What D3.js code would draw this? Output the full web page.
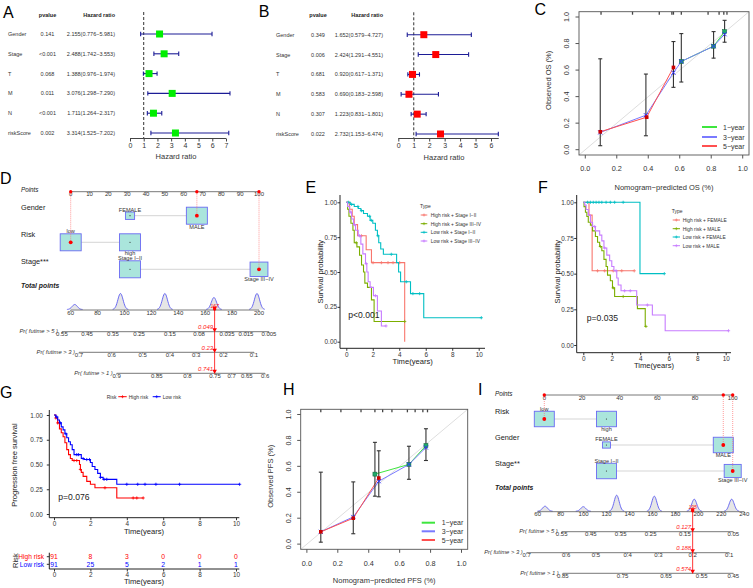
<!DOCTYPE html>
<html>
<head>
<meta charset="utf-8">
<script src="https://cdn.jsdelivr.net/npm/d3@7/dist/d3.min.js"></script>
<style>
  body { margin: 0; background: #fff; }
  svg { display: block; font-family: Arial, "Liberation Sans", Helvetica, sans-serif; }
</style>
</head>
<body>
<div id="chart"></div>
<script>
// ---- Forest plots: A (univariate), B (multivariate) ----
const forestVars = ["Gender", "Stage", "T", "M", "N", "riskScore"];
const uniP = ["0.141", "<0.001", "0.068", "0.011", "<0.001", "0.002"];
const uniHR = [2.155, 2.488, 1.388, 3.076, 1.711, 3.314];
const uniLow = [0.776, 1.742, 0.976, 1.298, 1.264, 1.525];
const uniHigh = [5.981, 3.553, 1.974, 7.290, 2.317, 7.202];
const multiP = ["0.349", "0.006", "0.681", "0.583", "0.307", "0.022"];
const multiHR = [1.652, 2.424, 0.920, 0.690, 1.223, 2.732];
const multiLow = [0.579, 1.291, 0.617, 0.183, 0.831, 1.153];
const multiHigh = [4.727, 4.551, 1.371, 2.598, 1.801, 6.474];
const forestTicksA = [0, 1, 2, 3, 4, 5, 6, 7];
const forestTicksB = [0, 1, 2, 3, 4, 5, 6];

// ---- Calibration curves: C (OS), H (PFS) ----
const calLabels = ["1\u2212year", "3\u2212year", "5\u2212year"];
const calTicks = [0, 0.2, 0.4, 0.6, 0.8, 1.0];
const osCal1 = [[0.61, 0.665], [0.815, 0.78], [0.885, 0.89]];
const osCal3 = [[0.095, 0.13], [0.385, 0.26], [0.56, 0.58], [0.61, 0.665], [0.815, 0.78], [0.885, 0.87]];
const osCal5 = [[0.095, 0.135], [0.39, 0.245], [0.56, 0.62]];
const osErr = [[0.095, 0.03, 0.685], [0.385, 0.105, 0.57], [0.56, 0.47, 0.815], [0.61, 0.51, 0.875], [0.815, 0.69, 0.89], [0.885, 0.81, 0.975]];
const osRug = [0.1, 0.3, 0.47, 0.55, 0.56, 0.61, 0.78, 0.85, 0.88, 0.9];
const pfsCal1 = [[0.44, 0.54], [0.66, 0.615], [0.77, 0.76]];
const pfsCal3 = [[0.09, 0.095], [0.30, 0.21], [0.465, 0.485], [0.66, 0.615], [0.77, 0.745]];
const pfsCal5 = [[0.09, 0.095], [0.30, 0.20], [0.465, 0.51]];
const pfsErr = [[0.09, 0.015, 0.555], [0.30, 0.08, 0.48], [0.44, 0.37, 0.785], [0.465, 0.365, 0.72], [0.66, 0.50, 0.755], [0.77, 0.645, 0.89]];
const pfsRug = [0.09, 0.22, 0.35, 0.44, 0.49, 0.55, 0.65, 0.70, 0.75, 0.78];

// ---- Nomograms: D (OS), I (PFS) ----
const dRows = ["Gender", "Risk", "Stage***"];
const dLevels = [["FEMALE", "MALE"], ["low", "high"], ["Stage I\u2212II", "Stage III\u2212IV"]];
const dLevelPts = [[31.5, 67], [0, 31.5], [31.5, 100]];
const dLevelFreq = [[0.16, 0.84], [0.5, 0.5], [0.58, 0.42]];
const dSelected = [1, 0, 1];
const dPointTicks = [0, 10, 20, 30, 40, 50, 60, 70, 80, 90, 100];
const dTotalTicks = [60, 80, 100, 120, 140, 160, 180, 200];
const dPeaks = [63, 97, 130, 166.5, 198.5];
const dPeakH = [5, 16, 16, 12, 16];
const dPrNames = ["Pr( futime > 5 )", "Pr( futime > 3 )", "Pr( futime > 1 )"];
const dPrLabels = [["0.55", "0.45", "0.35", "0.25", "0.15", "0.08", "0.035", "0.015", "0.005"],
                   ["0.7", "0.6", "0.5", "0.4", "0.3", "0.2", "0.1"],
                   ["0.9", "0.85", "0.8", "0.75", "0.7", "0.65", "0.6"]];
const dPrAt = [[53.5, 72.1, 91.4, 110.8, 133.8, 155.4, 176.2, 190.3, 207.4],
               [66.2, 90.5, 113.5, 133.8, 153.2, 173.5, 196.3],
               [94.2, 124, 146.7, 167.3, 179.7, 190.9, 204.5]];
const dPrValues = ["0.049", "0.23", "0.741"];

const iRows = ["Risk", "Gender", "Stage**"];
const iLevels = [["low", "high"], ["FEMALE", "MALE"], ["Stage I\u2212II", "Stage III\u2212IV"]];
const iLevelPts = [[0, 33], [33, 95], [33, 100]];
const iLevelFreq = [[0.5, 0.5], [0.14, 0.86], [0.58, 0.42]];
const iSelected = [0, 1, 1];
const iPointTicks = [0, 20, 40, 60, 80, 100];
const iTotalTicks = [60, 80, 100, 120, 140, 160, 180, 200, 220, 240];
const iPeaks = [66.4, 99.7, 128.8, 161.6, 196.4, 229];
const iPeakH = [5, 4.5, 16, 15, 12, 12];
const iPrLabels = [["0.55", "0.45", "0.35", "0.25", "0.15", "0.05"],
                   ["0.7", "0.6", "0.5", "0.4", "0.3", "0.2", "0.1"],
                   ["0.85", "0.75", "0.65", "0.55", "0.45"]];
const iPrAt = [[80.9, 106.2, 132.3, 158.4, 188.3, 230.4],
               [50.4, 84.7, 110.8, 138.4, 165.1, 195, 226.9],
               [81.8, 134, 171.8, 202.9, 230.4]];
const iPrValues = ["0.127", "0.188", "0.574"];

// ---- Kaplan-Meier: E, F, G ----
const kmTimeTicks = [0, 2, 4, 6, 8, 10];
const kmSurvTicks = [0, 0.25, 0.5, 0.75, 1];
const ggColors = ["#F8766D", "#7CAE00", "#00BFC4", "#C77CFF"];

const eNames = ["High risk + Stage I\u2212II", "High risk + Stage III\u2212IV", "Low risk + Stage I\u2212II", "Low risk + Stage III\u2212IV"];
const eHighEarly = [[0, 1], [0.25, 0.95], [0.45, 0.9], [0.6, 0.84], [0.85, 0.76], [1.5, 0.66], [1.9, 0.567], [4.41, 0]];
const eHighLate = [[0, 1], [0.1, 0.95], [0.2, 0.9], [0.35, 0.85], [0.5, 0.8], [0.6, 0.71], [0.8, 0.68], [1.0, 0.62], [1.15, 0.55], [1.3, 0.5], [1.4, 0.42], [1.6, 0.39], [1.9, 0.3], [2.1, 0.145]];
const eLowEarly = [[0, 1], [0.3, 0.985], [0.6, 0.97], [0.9, 0.955], [1.1, 0.94], [1.3, 0.92], [1.6, 0.9], [1.8, 0.87], [2.0, 0.85], [2.2, 0.8], [2.35, 0.76], [2.45, 0.71], [2.6, 0.665], [2.8, 0.627], [3.8, 0.567], [3.95, 0.5], [4.1, 0.43], [4.85, 0.345], [5.85, 0.172]];
const eLowLate = [[0, 1], [0.1, 0.97], [0.25, 0.93], [0.4, 0.88], [0.55, 0.84], [0.7, 0.8], [0.9, 0.76], [1.1, 0.7], [1.25, 0.63], [1.45, 0.56], [1.55, 0.5], [1.65, 0.43], [1.8, 0.39], [2.05, 0.33], [2.35, 0.22], [2.65, 0.113]];
const eEnd = [4.41, 4.41, 10.2, 3.0];
const eCensor = [[1.14, 2.02, 2.65, 3.15, 3.53, 4.03], [0.75, 4.41], [0.15, 0.4, 0.88, 1.14, 1.76, 1.89, 2.39, 3.4, 4.53, 5.03, 5.54, 10.2], [0.3, 0.6, 1.0, 1.5, 2.2, 3.0]];

const fNames = ["High risk + FEMALE", "High risk + MALE", "Low risk + FEMALE", "Low risk + MALE"];
const fHighF = [[0, 1], [0.4, 0.91], [0.62, 0.52]];
const fHighM = [[0, 1], [0.05, 0.97], [0.15, 0.93], [0.25, 0.9], [0.35, 0.86], [0.5, 0.84], [0.65, 0.8], [0.85, 0.76], [1.0, 0.72], [1.15, 0.69], [1.3, 0.66], [1.45, 0.6], [1.6, 0.55], [1.7, 0.49], [1.9, 0.45], [2.05, 0.4], [2.2, 0.34], [3.8, 0.255], [4.35, 0.13]];
const fLowF = [[0, 1], [3.98, 0.5]];
const fLowM = [[0, 1], [0.1, 0.98], [0.2, 0.95], [0.35, 0.91], [0.5, 0.86], [0.65, 0.83], [0.85, 0.8], [1.15, 0.77], [1.3, 0.73], [1.45, 0.68], [1.65, 0.63], [1.85, 0.59], [2.0, 0.55], [2.15, 0.52], [2.35, 0.47], [2.45, 0.42], [2.65, 0.38], [3.75, 0.28], [4.85, 0.21], [5.75, 0.1]];
const fEnd = [3.58, 4.4, 5.69, 10.2];
const fCensor = [[1.0, 1.5, 2.1, 2.7, 3.58], [1.2, 2.1, 2.8, 4.4], [0.3, 0.5, 0.7, 0.9, 1.1, 1.3, 1.6, 1.9, 2.2, 2.8, 5.69], [0.8, 1.5, 2.3, 2.9, 3.3, 4.5, 10.2]];

const gNames = ["High risk", "Low risk"];
const gColors = ["#ff0000", "#0000ff"];
const gHigh = [[0, 1], [0.1, 0.97], [0.2, 0.92], [0.3, 0.86], [0.4, 0.82], [0.5, 0.78], [0.6, 0.72], [0.7, 0.65], [0.8, 0.6], [0.9, 0.56], [1.0, 0.54], [1.4, 0.5], [1.45, 0.45], [1.5, 0.42], [1.6, 0.38], [1.8, 0.33], [2.0, 0.3], [2.25, 0.265], [3.45, 0.162]];
const gLow = [[0, 1], [0.1, 0.98], [0.2, 0.95], [0.3, 0.92], [0.4, 0.88], [0.5, 0.85], [0.6, 0.81], [0.7, 0.77], [0.8, 0.73], [0.9, 0.7], [1.0, 0.65], [1.1, 0.6], [1.5, 0.56], [1.65, 0.55], [2.0, 0.52], [2.1, 0.48], [2.25, 0.45], [2.4, 0.41], [2.55, 0.37], [2.7, 0.35], [3.45, 0.30]];
const gEnd = [4.9, 10.2];
const gCensor = [[0.1, 0.2, 1.1, 1.25, 1.45, 2.8, 4.35, 4.55, 4.9], [0.15, 0.35, 0.65, 1.25, 1.35, 1.6, 1.8, 1.95, 2.55, 2.75, 2.9, 4.0, 4.6, 5.0, 5.6, 6.9, 10.2]];
const gAtRiskHigh = [91, 8, 3, 0, 0, 0];
const gAtRiskLow = [91, 25, 5, 2, 1, 1];

const panelLetters = ["A", "B", "C", "D", "E", "F", "G", "H", "I"];

// ---------------------------------------------------------------
const svg = d3.select("#chart").append("svg").attr("width", 753).attr("height", 588);
svg.append("rect").attr("width", 753).attr("height", 588).attr("fill", "#fff");
const f3 = d3.format(".3f");

// ---------- Forest plot ----------
function forest(hr, lo, hi, pv, ticks, color, c) {
    const g = svg.append("g");
    const x = d3.scaleLinear().domain([0, ticks[ticks.length - 1]]).range([c.x0, c.x1]);
    const y = d3.scalePoint().domain(forestVars).range([c.yTop, c.yBot]);

    g.append("text").attr("x", c.pX).attr("y", c.headY).attr("text-anchor", "middle")
        .attr("font-size", 5.5).attr("font-weight", "bold").attr("fill", "#222").text("pvalue");
    g.append("text").attr("x", c.hrX).attr("y", c.headY).attr("text-anchor", "end")
        .attr("font-size", 5.5).attr("font-weight", "bold").attr("fill", "#222").text("Hazard ratio");

    const rows = g.selectAll(".row").data(forestVars).enter().append("g")
        .attr("transform", d => `translate(0,${y(d) + 2})`)
        .attr("font-size", 5.5).attr("fill", "#333");
    rows.append("text").attr("x", c.labX).text(d => d);
    rows.append("text").attr("x", c.pX).attr("text-anchor", "middle").text((d, i) => pv[i]);
    rows.append("text").attr("x", c.hrX).attr("text-anchor", "end")
        .text((d, i) => `${f3(hr[i])}(${f3(lo[i])}\u2212${f3(hi[i])})`);

    // Referenzlinie HR = 1
    g.append("line").attr("x1", x(1)).attr("x2", x(1)).attr("y1", c.dashTop).attr("y2", c.axisY)
        .attr("stroke", "#333").attr("stroke-width", 1).attr("stroke-dasharray", "3,2");

    const ci = g.selectAll(".ci").data(forestVars).enter().append("g")
        .attr("stroke", "#1c1c96").attr("stroke-width", 1.1);
    ci.append("line").attr("x1", (d, i) => x(lo[i])).attr("x2", (d, i) => x(hi[i]))
        .attr("y1", d => y(d)).attr("y2", d => y(d));
    ci.append("line").attr("x1", (d, i) => x(lo[i])).attr("x2", (d, i) => x(lo[i]))
        .attr("y1", d => y(d) - 2.2).attr("y2", d => y(d) + 2.2);
    ci.append("line").attr("x1", (d, i) => x(hi[i])).attr("x2", (d, i) => x(hi[i]))
        .attr("y1", d => y(d) - 2.2).attr("y2", d => y(d) + 2.2);

    g.selectAll(".hr").data(forestVars).enter().append("rect")
        .attr("x", (d, i) => x(hr[i]) - 3.5).attr("y", d => y(d) - 3.5)
        .attr("width", 7).attr("height", 7).attr("fill", color);

    const ax = g.append("g").attr("transform", `translate(0,${c.axisY})`)
        .call(d3.axisBottom(x).tickValues(ticks).tickFormat(d3.format("d")).tickSize(3).tickPadding(1.6));
    ax.attr("font-family", null).attr("font-size", 7);
    ax.select(".domain").remove();
    ax.selectAll("line").attr("stroke", "#444");
    ax.selectAll("text").attr("fill", "#333");
    g.append("line").attr("x1", x(0)).attr("x2", x(c.axisEnd)).attr("y1", c.axisY).attr("y2", c.axisY)
        .attr("stroke", "#444");
    g.append("text").attr("x", c.xlabX).attr("y", c.xlabY).attr("text-anchor", "middle")
        .attr("font-size", 7.5).attr("fill", "#333").text("Hazard ratio");
}

forest(uniHR, uniLow, uniHigh, uniP, forestTicksA, "#00ee00",
    {labX: 8, pX: 47.5, hrX: 115, headY: 16.5, x0: 130, x1: 226, yTop: 34, yBot: 133,
     dashTop: 12, axisY: 138.5, axisEnd: 7, xlabX: 176, xlabY: 158.5});
forest(multiHR, multiLow, multiHigh, multiP, forestTicksB, "#ff0000",
    {labX: 276, pX: 318, hrX: 383, headY: 17, x0: 398.3, x1: 491, yTop: 34.7, yBot: 134,
     dashTop: 12.3, axisY: 138.5, axisEnd: 6.5, xlabX: 444, xlabY: 159.5});

// ---------- Calibration plot ----------
const calColors = ["#3ee63e", "#7a7aff", "#ff5050"];
function calib(c) {
    const g = svg.append("g");
    const x = d3.scaleLinear().domain([-0.04, 1.04]).range([c.left, c.right]);
    const y = d3.scaleLinear().domain([-0.04, 1.04]).range([c.bottom, c.top]);

    g.append("line").attr("x1", x(-0.04)).attr("y1", y(-0.04)).attr("x2", x(1.04)).attr("y2", y(1.04))
        .attr("stroke", "#dedede").attr("stroke-width", 1);

    g.selectAll(".rug").data(c.rug).enter().append("line")
        .attr("x1", d => x(d)).attr("x2", d => x(d)).attr("y1", c.top).attr("y2", c.top + 3)
        .attr("stroke", "#444").attr("stroke-width", 1.3);

    const lineGen = d3.line().x(d => x(d[0])).y(d => y(d[1]));
    [c.cal1, c.cal3, c.cal5].forEach((pts, i) => {
        g.append("path").attr("d", lineGen(pts)).attr("fill", "none")
            .attr("stroke", calColors[i]).attr("stroke-width", 1);
    });

    const eb = g.selectAll(".eb").data(c.err).enter().append("g")
        .attr("stroke", "#333").attr("stroke-width", 1.1);
    eb.append("line").attr("x1", d => x(d[0])).attr("x2", d => x(d[0])).attr("y1", d => y(d[1])).attr("y2", d => y(d[2]));
    eb.append("line").attr("x1", d => x(d[0]) - 2).attr("x2", d => x(d[0]) + 2).attr("y1", d => y(d[1])).attr("y2", d => y(d[1]));
    eb.append("line").attr("x1", d => x(d[0]) - 2).attr("x2", d => x(d[0]) + 2).attr("y1", d => y(d[2])).attr("y2", d => y(d[2]));

    g.selectAll(".m1").data(c.cal1).enter().append("rect")
        .attr("x", d => x(d[0]) - 2).attr("y", d => y(d[1]) - 2).attr("width", 4).attr("height", 4)
        .attr("fill", "#1faa6a").attr("stroke", "#0a5f3a").attr("stroke-width", 0.5);
    g.selectAll(".m3").data(c.cal3).enter().append("path")
        .attr("d", d => `M${x(d[0]) - 2},${y(d[1]) - 2}l4,4M${x(d[0]) - 2},${y(d[1]) + 2}l4,-4`)
        .attr("stroke", "#3030ff").attr("stroke-width", 1);
    g.selectAll(".m5").data(c.cal5).enter().append("rect")
        .attr("x", d => x(d[0]) - 1.8).attr("y", d => y(d[1]) - 1.8).attr("width", 3.6).attr("height", 3.6)
        .attr("fill", "#cc0000");

    g.append("rect").attr("x", c.left).attr("y", c.top).attr("width", c.right - c.left).attr("height", c.bottom - c.top)
        .attr("fill", "none").attr("stroke", "#555").attr("stroke-width", 0.9);

    // Achsen
    g.selectAll(".xt").data(calTicks).enter().append("line")
        .attr("x1", d => x(d)).attr("x2", d => x(d)).attr("y1", c.bottom).attr("y2", c.bottom + 3.5).attr("stroke", "#555");
    g.selectAll(".xl").data(calTicks).enter().append("text")
        .attr("x", d => x(d)).attr("y", c.bottom + 16.3).attr("text-anchor", "middle")
        .attr("font-size", 7.3).attr("fill", "#333").text(d3.format(".1f"));
    g.selectAll(".yt").data(calTicks).enter().append("line")
        .attr("x1", c.left - 3.5).attr("x2", c.left).attr("y1", d => y(d)).attr("y2", d => y(d)).attr("stroke", "#555");
    g.selectAll(".yl").data(calTicks).enter().append("text")
        .attr("transform", d => `translate(${c.left - 10},${y(d)}) rotate(-90)`).attr("text-anchor", "middle")
        .attr("font-size", 7.3).attr("fill", "#333").text(d3.format(".1f"));

    g.append("text").attr("x", (c.left + c.right) / 2).attr("y", c.xlabY).attr("text-anchor", "middle")
        .attr("font-size", 7.5).attr("fill", "#333").text(c.xlab);
    g.append("text").attr("transform", `translate(${c.ylabX},${(c.top + c.bottom) / 2 - 3}) rotate(-90)`)
        .attr("text-anchor", "middle").attr("font-size", 7.5).attr("fill", "#333").text(c.ylab);

    calLabels.forEach((lab, i) => {
        const ly = c.legY[i];
        g.append("line").attr("x1", c.legX0).attr("x2", c.legX1).attr("y1", ly).attr("y2", ly)
            .attr("stroke", calColors[i]).attr("stroke-width", 2);
        g.append("text").attr("x", c.legTx).attr("y", ly + 2.5).attr("font-size", 7).attr("fill", "#333").text(lab);
    });
}

calib({left: 579, right: 749, top: 11.7, bottom: 155, cal1: osCal1, cal3: osCal3, cal5: osCal5, err: osErr, rug: osRug,
       xlab: "Nomogram\u2212predicted OS (%)", ylab: "Observed OS (%)", xlabY: 190.3, ylabX: 550.7,
       legX0: 702, legX1: 717, legTx: 723, legY: [127, 137, 146]});
calib({left: 300.7, right: 467.7, top: 409.3, bottom: 549.3, cal1: pfsCal1, cal3: pfsCal3, cal5: pfsCal5, err: pfsErr, rug: pfsRug,
       xlab: "Nomogram\u2212predicted PFS (%)", ylab: "Observed PFS (%)", xlabY: 582.6, ylabX: 273.4,
       legX0: 421.7, legX1: 435, legTx: 441.7, legY: [522.7, 531.3, 540]});

// ---------- Nomogram ----------
function nomogram(c) {
    const g = svg.append("g").attr("fill", "#222");
    const px = d3.scaleLinear().domain([0, 100]).range([c.p0, c.p100]);
    const tx = d3.scaleLinear().domain([60, c.tMax]).range([c.t0, c.t1]);

    const axis = (vals, scale, labels, yy) => {
        g.append("line").attr("x1", scale(vals[0])).attr("x2", scale(vals[vals.length - 1]))
            .attr("y1", yy).attr("y2", yy).attr("stroke", "#555").attr("stroke-width", 0.8);
        g.selectAll(null).data(vals).enter().append("line")
            .attr("x1", d => scale(d)).attr("x2", d => scale(d)).attr("y1", yy).attr("y2", yy + 1.5)
            .attr("stroke", "#555").attr("stroke-width", 0.6);
        g.selectAll(null).data(vals).enter().append("text")
            .attr("x", d => scale(d)).attr("y", yy + 4.6).attr("text-anchor", "middle")
            .attr("font-size", 6).attr("fill", "#333").text((d, i) => labels[i]);
    };

    g.append("text").attr("x", c.labX).attr("y", c.pointsLabY).attr("font-size", 6.3)
        .attr("font-style", "italic").text("Points");
    axis(c.pointTicks, px, c.pointTicks, c.pointsY);

    let total = 0;
    c.rows.forEach((name, r) => {
        const yy = c.rowY[r], pts = c.levelPts[r], fr = c.levelFreq[r], maxF = d3.max(fr);
        g.append("text").attr("x", c.labX).attr("y", c.rowY[r] - c.rowLabDy[r]).attr("font-size", 7.3).text(name);
        g.append("line").attr("x1", px(pts[0])).attr("x2", px(pts[1])).attr("y1", yy).attr("y2", yy)
            .attr("stroke", "#d0d0d0").attr("stroke-width", 0.9);
        c.levels[r].forEach((lv, k) => {
            const s = Math.sqrt(fr[k] / maxF), w = c.boxW * s, h = c.boxH * s;
            g.append("rect").attr("x", px(pts[k]) - w / 2).attr("y", yy - h / 2).attr("width", w).attr("height", h)
                .attr("fill", "#aae5dc").attr("stroke", "#6a6af2").attr("stroke-width", 0.9);
            g.append("circle").attr("cx", px(pts[k])).attr("cy", yy).attr("r", 0.6).attr("fill", "#333");
            g.append("text").attr("x", px(pts[k])).attr("y", k === 0 ? yy - h / 2 - 0.4 : yy + h / 2 + 4.4)
                .attr("text-anchor", "middle").attr("font-size", 5.6).attr("fill", "#333").text(lv);
        });
        const p = pts[c.selected[r]];
        total += p;
        g.append("line").attr("x1", px(p)).attr("x2", px(p)).attr("y1", c.pointsY).attr("y2", yy)
            .attr("stroke", "#ff7070").attr("stroke-width", 0.7).attr("stroke-dasharray", "1,1");
        g.append("circle").attr("cx", px(p)).attr("cy", yy).attr("r", 1.9).attr("fill", "#ff0000");
        g.append("circle").attr("cx", px(p)).attr("cy", c.pointsY).attr("r", 1.7).attr("fill", "#ff0000");
    });

    // Total points + Dichte
    g.append("text").attr("x", c.labX).attr("y", c.totalLabY).attr("font-size", 6.8)
        .attr("font-style", "italic").attr("font-weight", "bold").text("Total points");
    const area = d3.area().x(d => d[0]).y0(c.totalY - 0.5).y1(d => d[1]);
    const line = d3.line().x(d => d[0]).y(d => d[1]);
    c.peaks.forEach((pk, i) => {
        const cx = tx(pk);
        const pts = d3.range(-3, 3.01, 0.2).map(u => [cx + u * c.sigma, c.totalY - 0.5 - c.peakH[i] * Math.exp(-0.5 * u * u)]);
        g.append("path").attr("d", area(pts)).attr("fill", "#e6e6e6");
        g.append("path").attr("d", line(pts)).attr("fill", "none").attr("stroke", "#5b5bf0").attr("stroke-width", 0.9);
    });
    axis(c.totalTicks, tx, c.totalTicks, c.totalY);

    // Wahrscheinlichkeitsachsen
    const tpx = tx(total);
    c.prAt.forEach((at, i) => {
        const yy = c.prY[i];
        g.append("text").attr("x", tx(at[0]) - 4).attr("y", yy + 1.5).attr("text-anchor", "end")
            .attr("font-size", 5.8).attr("font-style", "italic").attr("fill", "#333").text(dPrNames[i]);
        axis(at, tx, c.prLabels[i], yy);
    });

    g.append("line").attr("x1", tpx).attr("x2", tpx).attr("y1", c.totalY).attr("y2", c.prY[2])
        .attr("stroke", "#ff2020").attr("stroke-width", 0.9);
    g.append("circle").attr("cx", tpx).attr("cy", c.totalY - 1).attr("r", 1.7).attr("fill", "#ff0000");
    g.append("text").attr("x", tpx).attr("y", c.totalY - 2.5).attr("text-anchor", "middle")
        .attr("font-size", 5).attr("font-style", "italic").attr("fill", "#ff2020").text(total);
    [c.totalY].concat(c.prY).forEach(yy => {
        g.append("path").attr("d", `M${tpx},${yy + 0.5}l-2.3,-4h4.6z`).attr("fill", "#ff0000");
    });
    c.prValues.forEach((v, i) => {
        g.append("text").attr("x", tpx - 1.5).attr("y", c.prY[i] - 2.6).attr("text-anchor", "end")
            .attr("font-size", 6).attr("font-style", "italic").attr("fill", "#ff2020").text(v);
    });
}

nomogram({labX: 21, pointsY: 191.7, pointsLabY: 192, p0: 70.7, p100: 259, t0: 70.7, t1: 259, tMax: 200,
          rows: dRows, levels: dLevels, levelPts: dLevelPts, levelFreq: dLevelFreq, selected: dSelected,
          pointTicks: dPointTicks, totalTicks: dTotalTicks, peaks: dPeaks, peakH: dPeakH, sigma: 2.6,
          prAt: dPrAt, prLabels: dPrLabels, prValues: dPrValues,
          rowY: [215.7, 242.3, 269.3], rowLabDy: [5.5, 5.5, 5.8], totalLabY: 287.8, totalY: 310,
          prY: [331.7, 352.3, 373.3], boxW: 21, boxH: 17});
nomogram({labX: 495, pointsY: 395, pointsLabY: 396, p0: 544.3, p100: 732.7, t0: 537.7, t1: 744.3, tMax: 240,
          rows: iRows, levels: iLevels, levelPts: iLevelPts, levelFreq: iLevelFreq, selected: iSelected,
          pointTicks: iPointTicks, totalTicks: iTotalTicks, peaks: iPeaks, peakH: iPeakH, sigma: 2.5,
          prAt: iPrAt, prLabels: iPrLabels, prValues: iPrValues,
          rowY: [419, 445, 471], rowLabDy: [4.8, 4.8, 5.2], totalLabY: 490.2, totalY: 511.7,
          prY: [531.7, 552.7, 573.3], boxW: 20, boxH: 15.5});

// ---------- Kaplan-Meier ----------
function km(c) {
    const g = svg.append("g");
    const x = d3.scaleLinear().domain([0, 10]).range([c.x0, c.x10]);
    const y = d3.scaleLinear().domain([0, 1]).range([c.y0, c.y1]);
    const line = d3.line().curve(d3.curveStepAfter).x(d => x(d[0])).y(d => y(d[1]));
    const plus = (px, py, s) => `M${px - s},${py}h${2 * s}M${px},${py - s}v${2 * s}`;

    c.curves.forEach((steps, i) => {
        const pts = steps.concat([[c.ends[i], steps[steps.length - 1][1]]]);
        g.append("path").attr("d", line(pts)).attr("fill", "none")
            .attr("stroke", c.colors[i]).attr("stroke-width", 1.1);
        const survAt = t => { let s = 1; steps.forEach(d => { if (d[0] <= t) s = d[1]; }); return s; };
        g.selectAll(null).data(c.censors[i]).enter().append("path")
            .attr("d", t => plus(x(t), y(survAt(t)), 1.6))
            .attr("stroke", c.colors[i]).attr("stroke-width", 0.8);
    });

    const ax = g.append("g").attr("transform", `translate(0,${c.axY})`)
        .call(d3.axisBottom(x).tickValues(kmTimeTicks).tickSize(2.5).tickPadding(1.2));
    const ay = g.append("g").attr("transform", `translate(${c.axX},0)`)
        .call(d3.axisLeft(y).tickValues(kmSurvTicks).tickFormat(d3.format(".2f")).tickSize(2.5).tickPadding(c.pad));
    [ax, ay].forEach(a => {
        a.attr("font-family", null).attr("font-size", 6.4);
        a.select(".domain").remove();
        a.selectAll("line").attr("stroke", "#333");
        a.selectAll("text").attr("fill", "#333");
    });
    g.append("line").attr("x1", c.axX).attr("x2", c.axX).attr("y1", c.axTop).attr("y2", c.axY).attr("stroke", "#222");
    g.append("line").attr("x1", c.axX).attr("x2", c.axRight).attr("y1", c.axY).attr("y2", c.axY).attr("stroke", "#222");

    g.append("text").attr("x", c.xlabX).attr("y", c.xlabY).attr("text-anchor", "middle")
        .attr("font-size", 7.6).attr("fill", "#222").text("Time(years)");
    g.append("text").attr("transform", `translate(${c.ylabX},${c.ylabY}) rotate(-90)`).attr("text-anchor", "middle")
        .attr("font-size", 7.6).attr("fill", "#222").text(c.ylab);
    g.append("text").attr("x", c.pX).attr("y", c.pY).attr("font-size", 8.6).attr("fill", "#222").text(c.pText);

    if (c.legend) {
        const L = c.legend;
        g.append("text").attr("x", L.x).attr("y", L.titleY + 1.8).attr("font-size", 5).attr("fill", "#333").text("Type");
        c.names.forEach((n, i) => {
            g.append("line").attr("x1", L.k0).attr("x2", L.k1).attr("y1", L.y[i]).attr("y2", L.y[i])
                .attr("stroke", c.colors[i]).attr("stroke-width", 1);
            g.append("path").attr("d", plus((L.k0 + L.k1) / 2, L.y[i], 1.5)).attr("stroke", c.colors[i]).attr("stroke-width", 0.7);
            g.append("text").attr("x", L.tx).attr("y", L.y[i] + 1.8).attr("font-size", 4.9).attr("fill", "#333").text(n);
        });
    }
    return {x, y, g, plus};
}

km({x0: 346.3, x10: 478.7, y0: 341.7, y1: 202.3, axX: 340, axY: 348.3, axTop: 195, axRight: 485, pad: 0.5,
    curves: [eHighEarly, eHighLate, eLowEarly, eLowLate], ends: eEnd, censors: eCensor, colors: ggColors, names: eNames,
    xlabX: 412.7, xlabY: 364.4, ylabX: 323.4, ylabY: 271.7, ylab: "Survival probability",
    pX: 348.3, pY: 318, pText: "p<0.001",
    legend: {x: 420, titleY: 206, y: [215, 223.7, 232.3, 241], k0: 420.7, k1: 427.3, tx: 430.7}});
km({x0: 583.3, x10: 725.7, y0: 345, y1: 202.3, axX: 576.7, axY: 352.7, axTop: 195, axRight: 731, pad: 0.5,
    curves: [fHighF, fHighM, fLowF, fLowM], ends: fEnd, censors: fCensor, colors: ggColors, names: fNames,
    xlabX: 654, xlabY: 367.7, ylabX: 560, ylabY: 271.7, ylab: "Survival probability",
    pX: 586.7, pY: 320.7, pText: "p=0.035",
    legend: {x: 671.7, titleY: 210.7, y: [220, 228.7, 237, 245.7], k0: 672.7, k1: 680, tx: 682.7}});
const G = km({x0: 54, x10: 236, y0: 514, y1: 415, axX: 49.3, axY: 517.7, axTop: 410, axRight: 239.3, pad: 4,
    curves: [gHigh, gLow], ends: gEnd, censors: gCensor, colors: gColors, names: gNames,
    xlabX: 144, xlabY: 534.4, ylabX: 16.7, ylabY: 465, ylab: "Progression free survival",
    pX: 58.3, pY: 499.7, pText: "p=0.076"});

// G: Legende oben
G.g.append("text").attr("x", 106.7).attr("y", 398.5).attr("font-size", 5).attr("fill", "#333").text("Risk");
[[118.3, 126.7, 128.7], [152.7, 160.7, 162.7]].forEach((k, i) => {
    G.g.append("line").attr("x1", k[0]).attr("x2", k[1]).attr("y1", 396.7).attr("y2", 396.7)
        .attr("stroke", gColors[i]).attr("stroke-width", 1);
    G.g.append("path").attr("d", G.plus((k[0] + k[1]) / 2, 396.7, 1.5)).attr("stroke", gColors[i]).attr("stroke-width", 0.7);
    G.g.append("text").attr("x", k[2]).attr("y", 398.5).attr("font-size", 5).attr("fill", "#333").text(gNames[i]);
});

// G: Risk table
const tableY = [556.7, 564.3];
[gAtRiskHigh, gAtRiskLow].forEach((row, i) => {
    G.g.append("text").attr("x", 44).attr("y", tableY[i] + 2.4).attr("text-anchor", "end")
        .attr("font-size", 6.6).attr("fill", gColors[i]).text(gNames[i]);
    G.g.selectAll(null).data(row).enter().append("text")
        .attr("x", (d, k) => G.x(kmTimeTicks[k])).attr("y", tableY[i] + 2.4).attr("text-anchor", "middle")
        .attr("font-size", 6.8).attr("fill", gColors[i]).text(d => d);
    G.g.append("line").attr("x1", 46.8).attr("x2", 49.3).attr("y1", tableY[i]).attr("y2", tableY[i]).attr("stroke", "#333");
});
G.g.append("line").attr("x1", 49.3).attr("x2", 49.3).attr("y1", 552.7).attr("y2", 569).attr("stroke", "#222");
G.g.append("line").attr("x1", 49.3).attr("x2", 239.3).attr("y1", 569).attr("y2", 569).attr("stroke", "#222");
const tAx = G.g.append("g").attr("transform", "translate(0,569)")
    .call(d3.axisBottom(G.x).tickValues(kmTimeTicks).tickSize(2.5).tickPadding(1.2));
tAx.attr("font-family", null).attr("font-size", 6.4);
tAx.select(".domain").remove();
tAx.selectAll("line").attr("stroke", "#333");
tAx.selectAll("text").attr("fill", "#333");
G.g.append("text").attr("x", 144).attr("y", 584.4).attr("text-anchor", "middle")
    .attr("font-size", 7.6).attr("fill", "#222").text("Time(years)");
G.g.append("text").attr("transform", "translate(17.7,560.7) rotate(-90)").attr("text-anchor", "middle")
    .attr("font-size", 7.6).attr("fill", "#222").text("Risk");

// ---------- Panel-Buchstaben ----------
const letterPos = [[3, 18], [258.7, 17], [534.5, 15], [0, 184], [305.5, 193], [538, 193], [0, 398], [283, 395], [478, 395]];
svg.selectAll(".letter").data(panelLetters).enter().append("text")
    .attr("x", (d, i) => letterPos[i][0]).attr("y", (d, i) => letterPos[i][1])
    .attr("font-size", 16).attr("fill", "#000").text(d => d);
</script>
</body>
</html>
